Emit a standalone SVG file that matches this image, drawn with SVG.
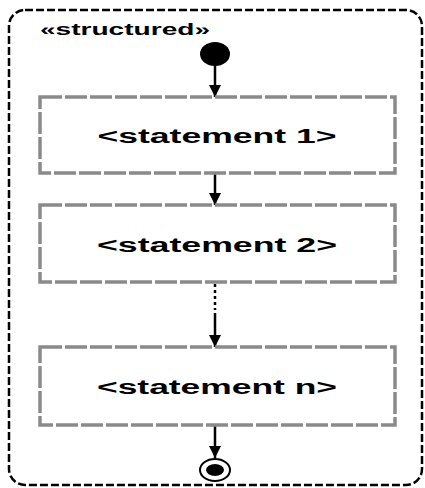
<svg xmlns="http://www.w3.org/2000/svg" width="425" height="488" viewBox="0 0 425 488">
<defs>
<style>
.frame{fill:#fff;stroke:#000;stroke-width:2.5;stroke-dasharray:8 3}
.box{fill:#fff;stroke:#8a8a8a;stroke-width:3.5;stroke-dasharray:22 3}
.lbl{font-family:"Liberation Sans",Arial,sans-serif;font-weight:bold;fill:#000}
.edge{stroke:#000;stroke-width:2.5;fill:none}
.dot{stroke:#000;stroke-width:2.5;fill:none;stroke-dasharray:3 3}
</style>
<marker id="ah" viewBox="0 0 12 12" refX="12" refY="6" markerWidth="12" markerHeight="14" markerUnits="userSpaceOnUse" orient="auto">
<path d="M0,0 L12,6 L0,12 Z" fill="#000"/>
</marker>
</defs>
<rect width="425" height="488" fill="#fff"/>
<g id="frame">
<rect class="frame" x="9" y="10" width="413" height="475" rx="16" ry="16"/>
<text class="lbl" x="40" y="35" font-size="17" textLength="170" lengthAdjust="spacingAndGlyphs">«structured»</text>
</g>
<g id="connectors">
<line class="edge" x1="215" y1="64" x2="215" y2="97" marker-end="url(#ah)"/>
<line class="edge" x1="215" y1="173" x2="215" y2="205" marker-end="url(#ah)"/>
<line class="dot" x1="215" y1="284" x2="215" y2="310"/>
<line class="edge" x1="215" y1="313" x2="215" y2="347" marker-end="url(#ah)"/>
<line class="edge" x1="215" y1="425" x2="215" y2="458" marker-end="url(#ah)"/>
</g>
<g id="initial">
<ellipse cx="215" cy="54" rx="15" ry="12" fill="#000"/>
</g>
<g id="statement1">
<rect class="box" x="40" y="97" width="355" height="76"/>
<text class="lbl" x="217" y="143" font-size="20" text-anchor="middle" textLength="239" lengthAdjust="spacingAndGlyphs">&lt;statement 1&gt;</text>
</g>
<g id="statement2">
<rect class="box" x="40" y="205" width="355" height="77"/>
<text class="lbl" x="217" y="252" font-size="20" text-anchor="middle" textLength="240" lengthAdjust="spacingAndGlyphs">&lt;statement 2&gt;</text>
</g>
<g id="statementn">
<rect class="box" x="40" y="347" width="355" height="78"/>
<text class="lbl" x="217" y="394" font-size="20" text-anchor="middle" textLength="240" lengthAdjust="spacingAndGlyphs">&lt;statement n&gt;</text>
</g>
<g id="final">
<ellipse cx="215" cy="470" rx="15" ry="11" fill="#fff" stroke="#000" stroke-width="2"/>
<ellipse cx="215" cy="470" rx="9" ry="6" fill="#000"/>
</g>
</svg>
